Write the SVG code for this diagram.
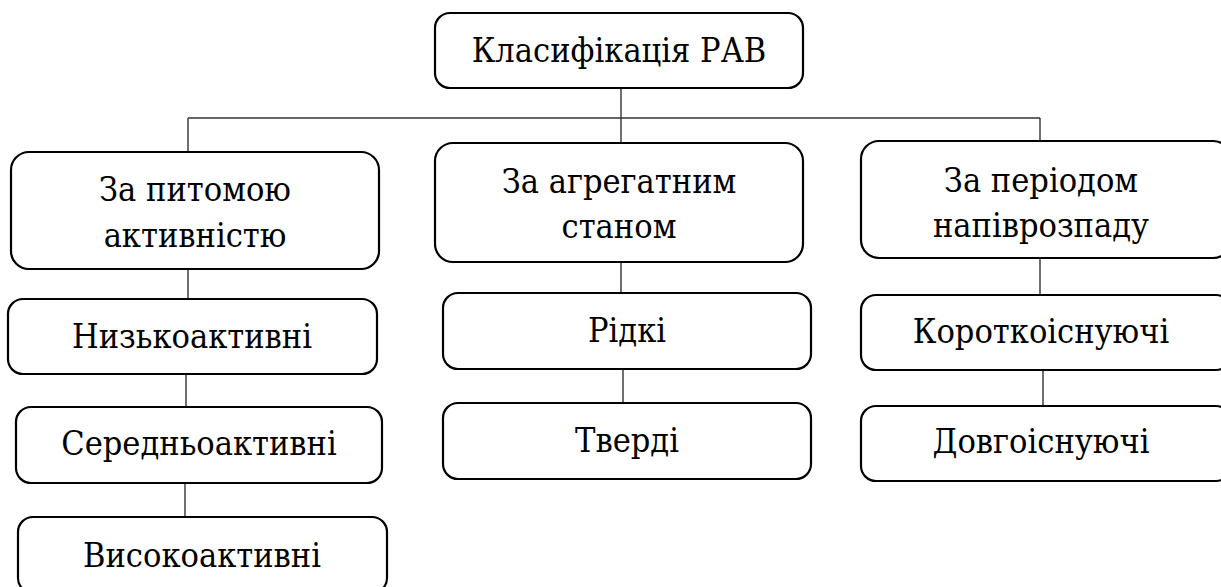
<svg xmlns="http://www.w3.org/2000/svg" width="1221" height="587" viewBox="0 0 1221 587">
<style>
.box{fill:#fff;stroke:#000;stroke-width:2.2}
.t{font-family:"DejaVu Serif Condensed","DejaVu Serif",serif;font-stretch:condensed;font-size:34px;fill:#000;text-anchor:middle}
.c{stroke:#333;stroke-width:1.4;fill:none}
</style>
<rect width="1221" height="587" fill="#fff"/>
<g id="connectors">
<line class="c" x1="621" y1="88" x2="621" y2="118"/>
<line class="c" x1="188" y1="118" x2="1040" y2="118"/>
<line class="c" x1="188" y1="118" x2="188" y2="152"/>
<line class="c" x1="621" y1="118" x2="621" y2="143"/>
<line class="c" x1="1040" y1="118" x2="1040" y2="141"/>
<line class="c" x1="188" y1="269" x2="188" y2="299"/>
<line class="c" x1="186" y1="374" x2="186" y2="407"/>
<line class="c" x1="185" y1="483" x2="185" y2="517"/>
<line class="c" x1="621" y1="262" x2="621" y2="293"/>
<line class="c" x1="623" y1="369" x2="623" y2="403"/>
<line class="c" x1="1040" y1="258" x2="1040" y2="295"/>
<line class="c" x1="1043" y1="370" x2="1043" y2="406"/>
</g>
<g id="root"><rect class="box" x="435" y="13" width="368" height="75" rx="15"/><text class="t" x="619" y="62">Класифікація РАВ</text></g>
<g id="n-activity"><rect class="box" x="11" y="152" width="368" height="117" rx="18"/><text class="t" x="195" y="201">За питомою</text><text class="t" x="195" y="247">активністю</text></g>
<g id="n-state"><rect class="box" x="435" y="143" width="368" height="119" rx="18"/><text class="t" x="619" y="193">За агрегатним</text><text class="t" x="619" y="238">станом</text></g>
<g id="n-halflife"><rect class="box" x="861" y="141" width="370" height="117" rx="18"/><text class="t" x="1041" y="192">За періодом</text><text class="t" x="1041" y="237">напіврозпаду</text></g>
<g id="n-low"><rect class="box" x="8" y="299" width="369" height="75" rx="15"/><text class="t" x="192" y="348">Низькоактивні</text></g>
<g id="n-mid"><rect class="box" x="16" y="407" width="366" height="76" rx="15"/><text class="t" x="199" y="455">Середньоактивні</text></g>
<g id="n-high"><rect class="box" x="18" y="517" width="369" height="76" rx="15"/><text class="t" x="202" y="567">Високоактивні</text></g>
<g id="n-liquid"><rect class="box" x="443" y="293" width="368" height="76" rx="15"/><text class="t" x="627" y="342">Рідкі</text></g>
<g id="n-solid"><rect class="box" x="443" y="403" width="368" height="76" rx="15"/><text class="t" x="627" y="452">Тверді</text></g>
<g id="n-short"><rect class="box" x="861" y="295" width="370" height="75" rx="15"/><text class="t" x="1041" y="343">Короткоіснуючі</text></g>
<g id="n-long"><rect class="box" x="861" y="406" width="370" height="75" rx="15"/><text class="t" x="1041" y="453">Довгоіснуючі</text></g>
</svg>
